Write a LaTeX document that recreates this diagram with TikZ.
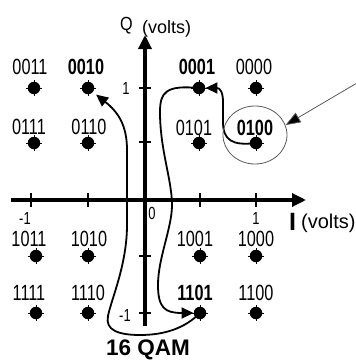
\documentclass[tikz,border=0pt]{standalone}
\usepackage{fontspec}
\setmainfont{Liberation Sans}
\newfontfamily\cond[FakeStretch=0.74]{Liberation Sans}
\newfontfamily\condq[FakeStretch=0.85]{Liberation Sans}
\usetikzlibrary{arrows.meta,shapes.geometric}
\begin{document}
\begin{tikzpicture}[x=1pt,y=-1pt,
  dot/.style={circle,fill=black,inner sep=0pt,minimum size=12.5pt},
  cross/.style={line width=0.5pt},
  lab/.style={font=\cond\fontsize{22}{26}\selectfont,inner sep=0pt},
  blab/.style={font=\cond\bfseries\fontsize{22}{26}\selectfont,inner sep=0pt},
  tlab/.style={font=\cond\fontsize{17.5}{20}\selectfont,inner sep=0pt},
  axis/.style={line width=3.3pt,-{Triangle[length=14pt,width=13pt]}},
  tick/.style={line width=2.6pt},
  path/.style={line width=1.8pt},
  ptip/.style={-{Triangle[length=12pt,width=11pt]}},
  thin/.style={line width=0.8pt,draw=black!65}
]
\useasboundingbox (0,0) rectangle (356,362);
% axes
\coordinate (xl) at (11,200);
\coordinate (xr) at (306,200);
\coordinate (yb) at (145,326);
\coordinate (yt) at (145,35);
\draw[axis] (xl) -- (xr);
\draw[axis] (yb) -- (yt);
% ticks
\foreach \x in {31,88,200,256} \draw[tick] (\x,193) -- (\x,207);
\foreach \y in {88,142,256,313} \draw[tick] (139,\y) -- (151,\y);
% tick labels
\node[tlab] (t1y) at (126,88) {1};
\node[tlab] (tm1y) at (125,315) {-1};
\node[tlab] (tm1x) at (25,218) {-1};
\node[tlab] (t0) at (152,213) {0};
\node[tlab] (t1x) at (256,218) {1};
% axis titles
\node[anchor=base west,inner sep=0pt,font=\condq\fontsize{19}{22}\selectfont] (Q) at (120,30) {Q};
\node[anchor=base west,inner sep=0pt,font=\fontsize{18}{20}\selectfont] (qv) at (142,33) {(volts)};
\node[anchor=base west,inner sep=0pt,font=\bfseries\fontsize{25}{27}\selectfont] (I) at (289,230) {I};
\node[anchor=base west,inner sep=0pt,font=\fontsize{20}{22}\selectfont] (iv) at (301,228) {(volts)};
% constellation points
\foreach \n/\x/\y in {0011/34/88,0010/88/88,0001/199/88,0000/256/88,
                      0111/34/143,0110/88/143,0101/199/143,0100/256/143,
                      1011/36/256,1010/88/256,1001/200/256,1000/256/256,
                      1111/36/313,1110/88/313,1101/200/313,1100/256/313}{
  \draw[cross] (\x-8,\y) -- (\x+8,\y) (\x,\y-8) -- (\x,\y+8);
  \node[dot] (d\n) at (\x,\y) {};
}
% point labels
\node[lab]  (l0011) at (30,67) {0011};
\node[blab] (l0010) at (86,67) {0010};
\node[blab] (l0001) at (197,67) {0001};
\node[lab]  (l0000) at (254,67) {0000};
\node[lab]  (l0111) at (29,127) {0111};
\node[lab]  (l0110) at (89,127) {0110};
\node[lab]  (l0101) at (194,128) {0101};
\node[blab] (l0100) at (255,128) {0100};
\node[lab]  (l1011) at (29,239) {1011};
\node[lab]  (l1010) at (89,239) {1010};
\node[lab]  (l1001) at (195,239) {1001};
\node[lab]  (l1000) at (256,239) {1000};
\node[lab]  (l1111) at (29,293) {1111};
\node[lab]  (l1110) at (88,293) {1110};
\node[blab] (l1101) at (195,293) {1101};
\node[lab]  (l1100) at (256,293) {1100};
% trajectory
\draw[path,ptip] (d0100.center) .. controls (232,146) and (223,140) .. (223,122)
  -- (223,102) .. controls (223,92) and (220,88) .. (d0001.east);
\draw[path,ptip] (d0001.center) .. controls (166,85) and (160,92) .. (160,112)
  .. controls (160,150) and (172,180) .. (172,205)
  .. controls (172,228) and (158,258) .. (158,285)
  .. controls (158,308) and (165,313) .. (d1101.west);
\draw[path,ptip,shorten >=4pt] (d1101.center) .. controls (185,328) and (165,335) .. (140,335)
  .. controls (118,335) and (105,330) .. (108,316)
  .. controls (111,300) and (127,265) .. (127,225)
  -- (127,150) .. controls (127,125) and (118,112) .. (d0010.-40);
% highlight ellipse and pointer
\node[ellipse,thin,minimum width=64pt,minimum height=58pt,inner sep=0pt] (circ) at (255,135) {};
\coordinate (ptr) at (357,83);
\draw[thin,-{Triangle[length=15pt,width=11pt,fill=black]}] (ptr) -- (circ.18);
% title
\node[inner sep=0pt,font=\bfseries\fontsize{22.5}{24}\selectfont] (title) at (148,350) {16 QAM};
\end{tikzpicture}
\end{document}
